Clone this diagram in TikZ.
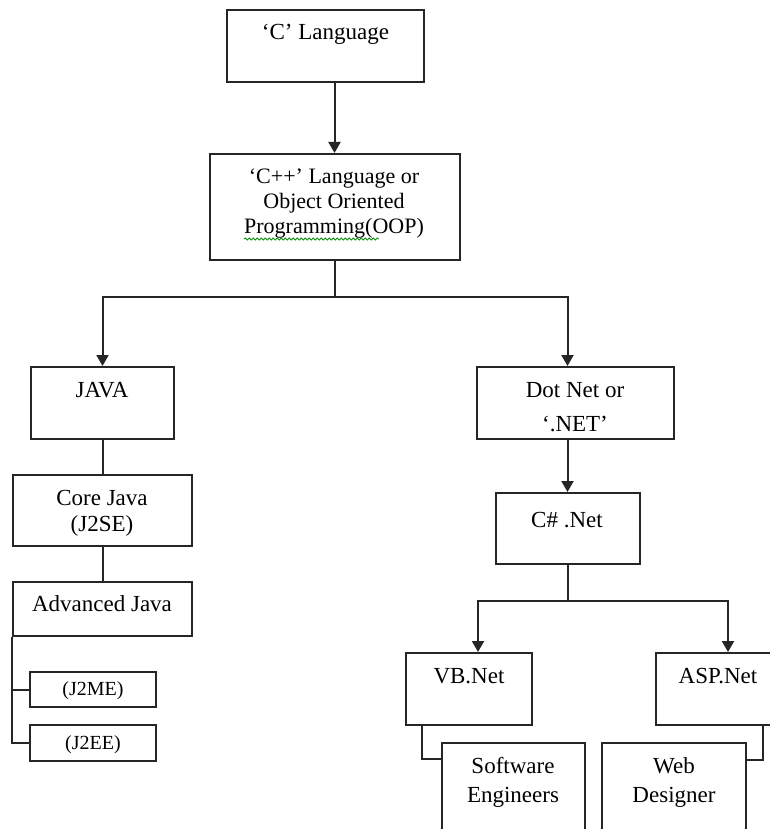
\documentclass[tikz,border=0pt]{standalone}
\usepackage{fontspec}
\setmainfont{Liberation Serif}
\usetikzlibrary{arrows.meta,calc,decorations.pathmorphing}
\begin{document}
\begin{tikzpicture}[x=1pt,y=-1pt,
  box/.style={draw=black!85, line width=2pt, rectangle, inner sep=0pt},
  lbl/.style={anchor=base, inner sep=0pt, font=\fontsize{23}{28}\selectfont},
  lblm/.style={anchor=base, inner sep=0pt, font=\fontsize{22}{26}\selectfont},
  lbls/.style={anchor=base, inner sep=0pt, font=\fontsize{20}{24}\selectfont},
  link/.style={draw=black!85, line width=2pt},
  arr/.style={draw=black!85, line width=2pt, -{Triangle[width=12pt,length=11pt]}},
  spell/.style={draw=green!55!black, line width=0.8pt, decorate,
    decoration={snake, amplitude=1.1pt, segment length=4pt}}]
\useasboundingbox (0,0) rectangle (770,829);
\clip (0,0) rectangle (770,829);
\fill[white] (0,0) rectangle (770,829);

% boxes
\node[box, minimum width=197pt, minimum height=72pt]  (c)      at (325.5,46)   {};
\node[box, minimum width=250pt, minimum height=106pt] (cpp)    at (334.5,207)  {};
\node[box, minimum width=143pt, minimum height=72pt]  (java)   at (102.5,403)  {};
\node[box, minimum width=179pt, minimum height=71pt]  (core)   at (102.5,510.5){};
\node[box, minimum width=179pt, minimum height=54pt]  (adv)    at (102.5,609)  {};
\node[box, minimum width=126pt, minimum height=35pt]  (j2me)   at (93,689.5)   {};
\node[box, minimum width=126pt, minimum height=36pt]  (j2ee)   at (93,743)     {};
\node[box, minimum width=197pt, minimum height=72pt]  (dotnet) at (575.5,403)  {};
\node[box, minimum width=144pt, minimum height=71pt]  (cs)     at (567.5,528.5){};
\node[box, minimum width=126pt, minimum height=72pt]  (vb)     at (469,689)    {};
\node[box, minimum width=124pt, minimum height=72pt]  (asp)    at (718,689)    {};
\node[box, minimum width=143pt, minimum height=110pt] (sw)     at (513.5,798)  {};
\node[box, minimum width=144pt, minimum height=110pt] (web)    at (674,798)    {};

% texts
\node[lbl]  (ct)   at (325.5,40) {‘C’ Language};
\node[lblm] (cpp1) at (334,183) {‘C++’ Language or};
\node[lblm] (cpp2) at (334,208) {Object Oriented};
\node[lblm] (cpp3) at (334,233) {Programming(OOP)};
\node[lbl]  (javat) at (102,397) {JAVA};
\node[lbl]  (core1) at (102,505) {Core Java};
\node[lbl]  (core2) at (102,531) {(J2SE)};
\node[lbl]  (advt)  at (102,611) {Advanced Java};
\node[lbls] (j2met) at (93,695) {(J2ME)};
\node[lbls] (j2eet) at (93,749) {(J2EE)};
\node[lbl]  (dn1)   at (575,397) {Dot Net or};
\node[lbl]  (dn2)   at (575,431) {‘.NET’};
\node[lbl]  (cst)   at (567,527) {C\# .Net};
\node[lbl]  (vbt)   at (469,683) {VB.Net};
\node[lbl]  (aspt)  at (718,683) {ASP.Net};
\node[lbl]  (sw1)   at (513,773) {Software};
\node[lbl]  (sw2)   at (513,802) {Engineers};
\node[lbl]  (web1)  at (674,773) {Web};
\node[lbl]  (web2)  at (674,802) {Designer};

% spell-check underline
\draw[spell] ($(cpp3.base west)+(0,6)$) -- ($(cpp3.base west)+(135,6)$);

% connectors
\draw[arr] (cpp.north |- c.south) -- (cpp.north);
\coordinate (s1) at ($(cpp.south)+(0,36)$);
\draw[link] (cpp.south) -- (s1);
\draw[arr] (s1) -| (java.north);
\draw[arr] (s1) -| (cs.north |- dotnet.north);
\draw[arr] (cs.north |- dotnet.south) -- (cs.north);
\draw[link] (java.south) -- (core.north);
\draw[link] (core.south) -- (adv.north);
\draw[link] (adv.south west) |- (j2ee.west);
\draw[link] (adv.south west |- j2me.west) -- (j2me.west);
\coordinate (s2) at ($(cs.south)+(0,36)$);
\draw[link] (cs.south) -- (s2);
\draw[arr] (s2) -| ($(vb.north)+(9,0)$);
\draw[arr] (s2) -| ($(asp.north)+(10,0)$);
\draw[link] ($(vb.south west)+(17,0)$) |- ($(sw.north west)+(0,17)$);
\draw[link] ($(asp.south west)+(108,0)$) |- ($(web.north east)+(0,18)$);
\end{tikzpicture}
\end{document}
